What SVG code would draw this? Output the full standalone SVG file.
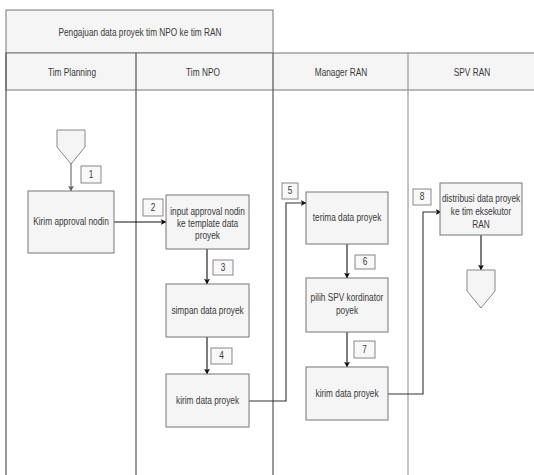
<svg xmlns="http://www.w3.org/2000/svg" width="534" height="475" viewBox="0 0 534 475">
  <style>
    .head { fill: #f5f5f5; stroke: #777777; stroke-width: 1; }
    .sep { stroke: #555555; stroke-width: 1.2; fill: none; }
    .box { fill: #f5f5f5; stroke: #777777; stroke-width: 1; }
    .num { fill: #f8f8f8; stroke: #888888; stroke-width: 1; }
    .term { fill: #f5f5f5; stroke: #888888; stroke-width: 1; }
    .t { font-family: "Liberation Sans", Arial, sans-serif; font-size: 10px; fill: #3a3a3a; text-anchor: middle;
         transform-box: fill-box; transform-origin: center; transform: scaleX(0.83); }
    .edge { stroke: #111111; stroke-width: 1.1; fill: none; }
    .edge-g { stroke: #666666; stroke-width: 1.1; fill: none; }
  </style>
  <defs>
    <marker id="ah" viewBox="0 0 10 10" refX="9" refY="5" markerWidth="6" markerHeight="6" orient="auto" markerUnits="userSpaceOnUse">
      <path d="M0,0 L10,5 L0,10 L2.5,5 Z" fill="#111111"/>
    </marker>
    <marker id="ahg" viewBox="0 0 10 10" refX="9" refY="5" markerWidth="6" markerHeight="6" orient="auto" markerUnits="userSpaceOnUse">
      <path d="M0,0 L10,5 L0,10 L2.5,5 Z" fill="#666666"/>
    </marker>
  </defs>

  <rect width="534" height="475" fill="#ffffff"/>

  <!-- pool title and lane headers -->
  <g id="pool">
    <rect class="head" x="6" y="10" width="267" height="43"/>
    <text class="t" x="140" y="36">Pengajuan data proyek tim NPO ke tim RAN</text>
    <rect class="head" x="6" y="53" width="530" height="37"/>
    <text class="t" x="72" y="76">Tim Planning</text>
    <text class="t" x="203" y="76">Tim NPO</text>
    <text class="t" x="341" y="76">Manager RAN</text>
    <text class="t" x="472" y="76">SPV RAN</text>
    <line class="sep" x1="6" y1="53" x2="6" y2="475"/>
    <line class="sep" x1="136" y1="53" x2="136" y2="475"/>
    <line class="sep" x1="273" y1="53" x2="273" y2="475"/>
    <line class="sep" x1="408" y1="53" x2="408" y2="475" style="stroke:#999999"/>
  </g>

  <!-- connectors -->
  <g id="connectors">
    <line class="edge-g" x1="71" y1="164" x2="71" y2="191" marker-end="url(#ahg)"/>
    <line class="edge" x1="114" y1="222" x2="166" y2="222" marker-end="url(#ah)"/>
    <line class="edge" x1="207" y1="249" x2="207" y2="284" marker-end="url(#ah)"/>
    <line class="edge" x1="207" y1="337" x2="207" y2="374" marker-end="url(#ah)"/>
    <polyline class="edge" points="249,401 286,401 286,203 306,203" marker-end="url(#ah)" style="stroke:#333333"/>
    <line class="edge" x1="347" y1="244" x2="347" y2="278" marker-end="url(#ah)"/>
    <line class="edge" x1="347" y1="332" x2="347" y2="367" marker-end="url(#ah)"/>
    <polyline class="edge" points="388,394 423,394 423,212 441,212" marker-end="url(#ah)" style="stroke:#333333"/>
    <line class="edge" x1="481" y1="235" x2="481" y2="270" marker-end="url(#ah)"/>
  </g>

  <!-- Tim Planning -->
  <g id="start">
    <polygon class="term" points="57,130 85,130 85,147 71,164 57,147"/>
  </g>
  <g id="n1">
    <rect class="num" x="81" y="166" width="20" height="17"/>
    <text class="t" x="91" y="178">1</text>
  </g>
  <g id="kirim-approval">
    <rect class="box" x="28" y="191" width="86" height="62"/>
    <text class="t" x="71" y="225.5">Kirim approval nodin</text>
  </g>

  <!-- Tim NPO -->
  <g id="n2">
    <rect class="num" x="143" y="199" width="20" height="17"/>
    <text class="t" x="153" y="211">2</text>
  </g>
  <g id="input-approval">
    <rect class="box" x="166" y="195" width="83" height="54"/>
    <text class="t" x="207.5" y="215">input approval nodin</text>
    <text class="t" x="207.5" y="227">ke template data</text>
    <text class="t" x="207.5" y="239">proyek</text>
  </g>
  <g id="n3">
    <rect class="num" x="213" y="260" width="20" height="15"/>
    <text class="t" x="223" y="271">3</text>
  </g>
  <g id="simpan">
    <rect class="box" x="166" y="284" width="83" height="53"/>
    <text class="t" x="207.5" y="314">simpan data proyek</text>
  </g>
  <g id="n4">
    <rect class="num" x="211" y="348" width="21" height="16"/>
    <text class="t" x="221.5" y="359.5">4</text>
  </g>
  <g id="kirim-npo">
    <rect class="box" x="166" y="374" width="83" height="53"/>
    <text class="t" x="207.5" y="404">kirim data proyek</text>
  </g>

  <!-- Manager RAN -->
  <g id="n5">
    <rect class="num" x="282" y="183" width="16" height="16"/>
    <text class="t" x="290" y="194.5">5</text>
  </g>
  <g id="terima">
    <rect class="box" x="306" y="192" width="82" height="52"/>
    <text class="t" x="347" y="221.5">terima data proyek</text>
  </g>
  <g id="n6">
    <rect class="num" x="355" y="255" width="20" height="14"/>
    <text class="t" x="365" y="265.5">6</text>
  </g>
  <g id="pilih">
    <rect class="box" x="306" y="278" width="82" height="54"/>
    <text class="t" x="347" y="301">pilih SPV kordinator</text>
    <text class="t" x="347" y="314">poyek</text>
  </g>
  <g id="n7">
    <rect class="num" x="354" y="341" width="21" height="17"/>
    <text class="t" x="364.5" y="353">7</text>
  </g>
  <g id="kirim-manager">
    <rect class="box" x="306" y="367" width="82" height="53"/>
    <text class="t" x="347" y="397">kirim data proyek</text>
  </g>

  <!-- SPV RAN -->
  <g id="n8">
    <rect class="num" x="413" y="189" width="18" height="16"/>
    <text class="t" x="422" y="200.5">8</text>
  </g>
  <g id="distribusi">
    <rect class="box" x="440" y="183" width="82" height="52"/>
    <text class="t" x="481" y="202">distribusi data proyek</text>
    <text class="t" x="481" y="215">ke tim eksekutor</text>
    <text class="t" x="481" y="228">RAN</text>
  </g>
  <g id="end">
    <polygon class="term" points="467,270 495,270 495,291 481,308 467,291"/>
  </g>
</svg>
